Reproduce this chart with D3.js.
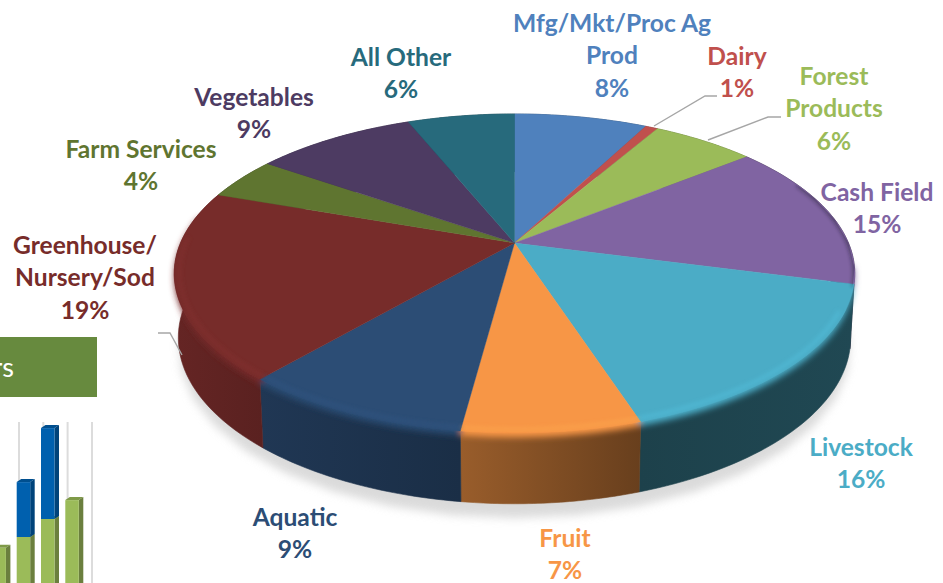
<!DOCTYPE html>
<html><head><meta charset="utf-8">
<script src="https://cdn.jsdelivr.net/npm/d3@7"></script>
<style>html,body{margin:0;padding:0;background:#fff;overflow:hidden}svg{display:block}text{font-family:Lato,"Open Sans",sans-serif}</style>
</head><body><div id="c"></div>
<script>
// ---- data ----
const categories = ["Mfg/Mkt/Proc Ag Prod","Dairy","Forest Products","Cash Field","Livestock","Fruit","Aquatic","Greenhouse/ Nursery/Sod","Farm Services","Vegetables","All Other"];
const shares = [7.6,0.7,5.9,14.9,15.9,7.1,9.2,19.1,4.3,9.2,6.1];
const colors = ["#4f81bd","#c0504d","#9bbb59","#8064a2","#4bacc6","#f79646","#2c4d75","#772c2a","#5f7530","#4d3b62","#276a7c"];
const labelColors = colors;
const wallShadeLeft  = [.6,.6,.6,.45,.38,.62,.72,.85,.6,.6,.6];
const wallShadeRight = [.6,.6,.6,.35,.42,.42,.6,.76,.6,.6,.6];
// label layout: lines, centre x, first-line centre y
const labelLines = [["Mfg/Mkt/Proc Ag","Prod"],["Dairy"],["Forest","Products"],["Cash Field"],["Livestock"],["Fruit"],["Aquatic"],["Greenhouse/","Nursery/Sod"],["Farm Services"],["Vegetables"],["All Other"]];
const labelX = [612,737,834,877,861,565,295,85,141,254,401];
const labelY = [23,56,76,192,447,538,517,245,149,97,57];
const leaders = [
  [[654,126],[705,96],[717,96]],
  [[708,140],[768,117],[781,117]],
  [[158,333],[170,333],[182,355]]
];
// small clipped bar chart
const barGreen = [29,35,45,55.5];
const barBlue  = [0,30.5,50.5,0];
const boxText = "rs";

const W=943,H=583;
const svg=d3.select("#c").append("svg").attr("width",W).attr("height",H);
const defs=svg.append("defs");
const blur=(id,s)=>defs.append("filter").attr("id",id).attr("x","-20%").attr("y","-20%").attr("width","140%").attr("height","140%").append("feGaussianBlur").attr("stdDeviation",s);
blur("b6",5);blur("b2",3);blur("b1",2);

// ---- perspective projection of the pie disc ----
const k=.191;
const topP={cx:514.5,ay:243,a:153.7,b:334},botP={cx:514.5,ay:306,a:160,b:330};
function project(t,z=0,r=1){
  const p={cx:topP.cx+(botP.cx-topP.cx)*z,ay:topP.ay+(botP.ay-topP.ay)*z,a:topP.a+(botP.a-topP.a)*z,b:topP.b+(botP.b-topP.b)*z};
  const u=r*Math.sin(t),v=r*Math.cos(t),w=1+k*v;
  return [p.cx+p.b*u/w,p.ay-p.a*v/w];
}
const samples=(a,b)=>d3.range(0,41).map(i=>a+(b-a)*i/40);
const line=d3.line();
const pie=d3.pie().sort(null).value(d=>d)(shares);

// ---- small bars (behind) ----
const xBar=d3.scaleBand().domain(d3.range(0,4)).range([-7.6,89.6]).paddingInner(0);
const yBar=d3.scaleLinear().domain([0,100]).range([600,420]);
const gBars=svg.append("g");
[19,43.3,67.6,92].forEach(x=>gBars.append("line").attr("x1",x).attr("x2",x).attr("y1",422).attr("y2",H).attr("stroke","#dcdcdc").attr("stroke-width",2));
function bar3d(x,y0,y1,front,side,top){
  const w=13.5,dx=4.5,dy=3;
  gBars.append("path").attr("fill",top).attr("d",line([[x,y1],[x+dx,y1-dy],[x+w+dx,y1-dy],[x+w,y1]])+"Z");
  gBars.append("path").attr("fill",side).attr("d",line([[x+w,y1],[x+w+dx,y1-dy],[x+w+dx,y0-dy],[x+w,y0]])+"Z");
  gBars.append("rect").attr("x",x).attr("y",y1).attr("width",w).attr("height",y0-y1).attr("fill",front);
}
barGreen.forEach((g,i)=>{
  const x=xBar(i);
  bar3d(x,yBar(0),yBar(g),"#9bbb59","#6b7f3e","#7f9a48");
  if(barBlue[i]>0) bar3d(x,yBar(g),yBar(g+barBlue[i]),"#0060ae","#00437a","#004f8f");
});
// green box
svg.append("rect").attr("x",-5).attr("y",337).attr("width",102).attr("height",60).attr("fill","#678a3e");
svg.append("text").attr("x",14).attr("y",377).attr("text-anchor","end").attr("font-size",27).attr("fill","#fff").text(boxText);

// ---- pie ----
const pieG=svg.append("g");
// soft shadow
pieG.append("path").attr("d",line(samples(0,2*Math.PI).map(t=>project(t,1.2,1)))+"Z")
  .attr("fill","#d4d4d4").attr("opacity",.85).attr("filter","url(#b6)");

// side walls
pie.forEach((s,i)=>{
  const ts=samples(s.startAngle,s.endAngle);
  const pts=ts.map(t=>project(t,0)).concat(ts.slice().reverse().map(t=>project(t,1)));
  const xs=pts.map(p=>p[0]);
  const c=d3.rgb(colors[i]);
  const sh=f=>d3.rgb(c.r*f,c.g*f,c.b*f).formatHex();
  const g=defs.append("linearGradient").attr("id","w"+i).attr("gradientUnits","userSpaceOnUse")
    .attr("x1",d3.min(xs)).attr("x2",d3.max(xs)).attr("y1",0).attr("y2",0);
  g.append("stop").attr("offset",0).attr("stop-color",sh(wallShadeLeft[i]));
  g.append("stop").attr("offset",1).attr("stop-color",sh(wallShadeRight[i]));
  pieG.append("path").attr("d",line(pts)+"Z").attr("fill",`url(#w${i})`).attr("stroke",`url(#w${i})`).attr("stroke-width",.6);
});
// bevel
const bevel=pieG.append("g").attr("filter","url(#b2)");
pie.forEach((s,i)=>{
  const a=Math.max(s.startAngle,1.7),b=Math.min(s.endAngle,4.9);
  if(a>=b) return;
  const ts=samples(a,b);
  const pts=ts.map(t=>project(t,0,.97)).concat(ts.slice().reverse().map(t=>project(t,.06)));
  bevel.append("path").attr("d",line(pts)+"Z").attr("fill",colors[i]);
});
// top face
pie.forEach((s,i)=>{
  const pts=[project(0,0,0)].concat(samples(s.startAngle,s.endAngle).map(t=>project(t,0)));
  pieG.append("path").attr("d",line(pts)+"Z").attr("fill",colors[i]).attr("stroke",colors[i]).attr("stroke-width",.4);
});
// rim highlight
pie.forEach((s,i)=>{
  const a=Math.max(s.startAngle,2.0),b=Math.min(s.endAngle,4.75);
  if(a>=b) return;
  const col=d3.color(colors[i]).brighter(.4).formatHex();
  pieG.append("path").attr("d",line(samples(a,b).map(t=>project(t,0,.985))))
    .attr("fill","none").attr("stroke",col).attr("stroke-width",3).attr("opacity",.55).attr("filter","url(#b1)");
});
// dark inner edge on the far right rim
defs.append("clipPath").attr("id","disc").append("path").attr("d",line(samples(0,2*Math.PI).map(t=>project(t,0)))+"Z");
pieG.append("g").attr("clip-path","url(#disc)").append("path")
  .attr("d",line(samples(1.15,1.84).map(t=>project(t,0))))
  .attr("fill","none").attr("stroke","#1d1a2c").attr("stroke-width",3).attr("opacity",.7).attr("filter","url(#b1)");
// leaders
leaders.forEach(l=>svg.append("path").attr("d",line(l)).attr("fill","none").attr("stroke","#a6a6a6").attr("stroke-width",1.4));
// labels
const fs=24.6,lh=32.5;
categories.forEach((c,i)=>{
  const lines=labelLines[i].concat([Math.round(shares[i])+"%"]);
  lines.forEach((t,j)=>svg.append("text").attr("x",labelX[i]).attr("y",labelY[i]+j*lh+8.5)
    .attr("text-anchor","middle").attr("font-size",fs).attr("font-weight",700)
    .attr("fill",labelColors[i]).text(t));
});
</script></body></html>
